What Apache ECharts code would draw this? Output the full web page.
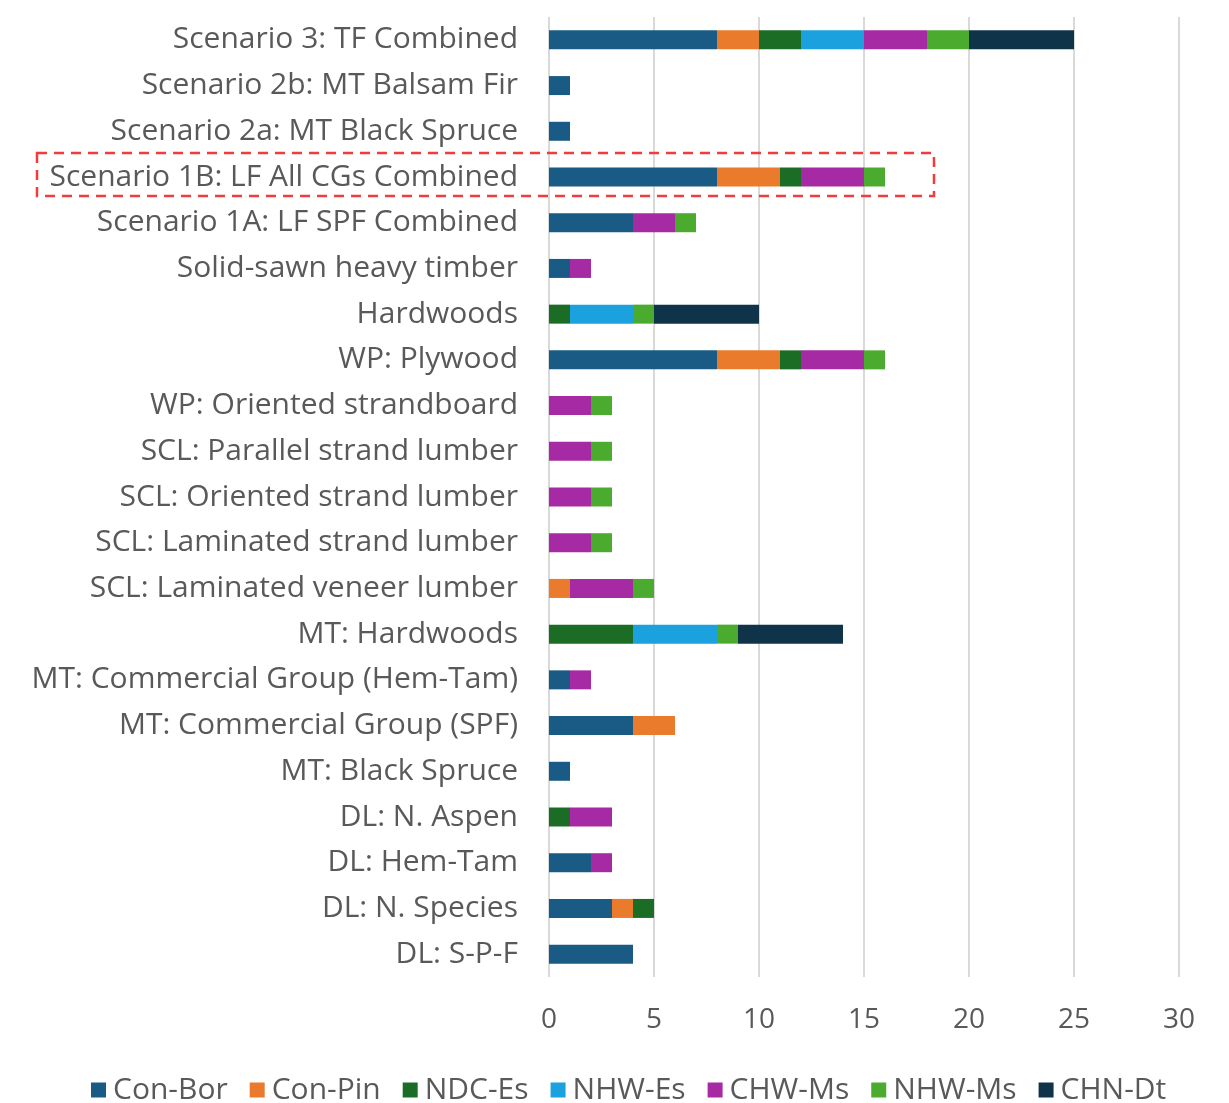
<!DOCTYPE html>
<html>
<head>
<meta charset="utf-8">
<script src="https://cdn.jsdelivr.net/npm/echarts@6/dist/echarts.min.js"></script>
<style>
  html, body { margin: 0; padding: 0; background: #ffffff; }
  #chart { width: 1229px; height: 1103px; }
</style>
</head>
<body>
<div id="chart"></div>
<script>
// Product / scenario rows, top to bottom
const categories = [
  'Scenario 3: TF Combined',
  'Scenario 2b: MT Balsam Fir',
  'Scenario 2a: MT Black Spruce',
  'Scenario 1B: LF All CGs Combined',
  'Scenario 1A: LF SPF Combined',
  'Solid-sawn heavy timber',
  'Hardwoods',
  'WP: Plywood',
  'WP: Oriented strandboard',
  'SCL: Parallel strand lumber',
  'SCL: Oriented strand lumber',
  'SCL: Laminated strand lumber',
  'SCL: Laminated veneer lumber',
  'MT: Hardwoods',
  'MT: Commercial Group (Hem-Tam)',
  'MT: Commercial Group (SPF)',
  'MT: Black Spruce',
  'DL: N. Aspen',
  'DL: Hem-Tam',
  'DL: N. Species',
  'DL: S-P-F'
];

const seriesNames = ['Con-Bor', 'Con-Pin', 'NDC-Es', 'NHW-Es', 'CHW-Ms', 'NHW-Ms', 'CHN-Dt'];

// Counts per row, same order as categories
const conBor = [8, 1, 1, 8, 4, 1, 0, 8, 0, 0, 0, 0, 0, 0, 1, 4, 1, 0, 2, 3, 4];
const conPin = [2, 0, 0, 3, 0, 0, 0, 3, 0, 0, 0, 0, 1, 0, 0, 2, 0, 0, 0, 1, 0];
const ndcEs  = [2, 0, 0, 1, 0, 0, 1, 1, 0, 0, 0, 0, 0, 4, 0, 0, 0, 1, 0, 1, 0];
const nhwEs  = [3, 0, 0, 0, 0, 0, 3, 0, 0, 0, 0, 0, 0, 4, 0, 0, 0, 0, 0, 0, 0];
const chwMs  = [3, 0, 0, 3, 2, 1, 0, 3, 2, 2, 2, 2, 3, 0, 1, 0, 0, 2, 1, 0, 0];
const nhwMs  = [2, 0, 0, 1, 1, 0, 1, 1, 1, 1, 1, 1, 1, 1, 0, 0, 0, 0, 0, 0, 0];
const chnDt  = [5, 0, 0, 0, 0, 0, 5, 0, 0, 0, 0, 0, 0, 5, 0, 0, 0, 0, 0, 0, 0];

const xTicks = [0, 5, 10, 15, 20, 25, 30];

const colors = ['#195b84', '#ea7a2c', '#1b6d25', '#1ba1dd', '#a52aa3', '#4bab2f', '#0f3349'];
const values = [conBor, conPin, ndcEs, nhwEs, chwMs, nhwMs, chnDt];

const FONT = '"Open Sans", "Noto Sans", sans-serif';

const chart = echarts.init(document.getElementById('chart'), null, { renderer: 'canvas' });

const option = {
  backgroundColor: '#ffffff',
  animation: false,
  color: colors,
  grid: { left: 549, right: 50, top: 17, height: 960, containLabel: false },
  xAxis: {
    type: 'value',
    min: xTicks[0],
    max: xTicks[xTicks.length - 1],
    interval: 5,
    axisLine: { show: false },
    axisTick: { show: false },
    axisLabel: {
      margin: 29,
      fontSize: 28,
      fontFamily: FONT,
      color: '#595959',
      formatter: v => String(v)
    },
    splitLine: { show: true, lineStyle: { color: '#d9d9d9', width: 2 } }
  },
  yAxis: {
    type: 'category',
    inverse: true,
    data: categories,
    axisLine: { show: false },
    axisTick: { show: false },
    axisLabel: {
      margin: 31,
      fontSize: 30,
      fontFamily: FONT,
      color: '#595959'
    }
  },
  legend: {
    top: 1070,
    left: 86,
    itemWidth: 15,
    itemHeight: 15,
    itemGap: 22,
    icon: 'rect',
    textStyle: { fontSize: 30, fontFamily: FONT, color: '#595959', padding: [0, 0, 0, 2] },
    data: seriesNames
  },
  series: seriesNames.map((name, i) => ({
    name,
    type: 'bar',
    stack: 'total',
    barWidth: 19,
    data: values[i],
    itemStyle: { color: colors[i] }
  })),
  graphic: [
    {
      type: 'rect',
      shape: { x: 37, y: 153, width: 897, height: 43 },
      style: { fill: 'none', stroke: '#f23b3b', lineWidth: 2.5, lineDash: [10, 7] },
      z: 10
    }
  ]
};

chart.setOption(option);
</script>
</body>
</html>
